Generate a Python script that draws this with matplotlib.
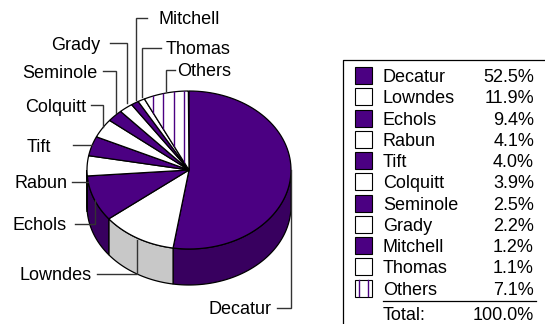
import numpy as np
import matplotlib
matplotlib.use("Agg")
import matplotlib.pyplot as plt
from matplotlib.patches import Polygon, Rectangle

plt.rcParams["font.family"] = ["Liberation Sans", "DejaVu Sans"]

names = ["Decatur", "Lowndes", "Echols", "Rabun", "Tift", "Colquitt",
         "Seminole", "Grady", "Mitchell", "Thomas", "Others"]
shares = [52.5, 11.9, 9.4, 4.1, 4.0, 3.9, 2.5, 2.2, 1.2, 1.1, 7.1]
share_labels = ["52.5%", "11.9%", "9.4%", "4.1%", "4.0%", "3.9%",
                "2.5%", "2.2%", "1.2%", "1.1%", "7.1%"]
total_label = "100.0%"

PURPLE = "#4b0082"
DARK = "#38005f"
GREY = "#c8c8c8"
LEADER = "#333333"
top_colors = [PURPLE, "white"] * 5 + ["white"]
side_colors = [DARK, GREY] * 5 + [GREY]

CX, CY, RX, RY, DEPTH = 189, 170, 102, 79, 36
FS = 13


def ellipse(t):
    return CX + RX * np.sin(t), CY - RY * np.cos(t)


fig = plt.figure(figsize=(5.45, 3.24), dpi=100)
ax = fig.add_axes([0, 0, 1, 1])
ax.set_xlim(0, 545)
ax.set_ylim(324, 0)
ax.axis("off")

edges = np.radians(np.concatenate([[0], np.cumsum(shares)]) * 3.6)

# side wall first, only the front half of the rim shows
for i in range(len(shares)):
    lo, hi = max(edges[i], np.pi / 2), min(edges[i + 1], 3 * np.pi / 2)
    if lo >= hi:
        continue
    x, y = ellipse(np.linspace(lo, hi, 80))
    pts = np.r_[np.c_[x, y], np.c_[x, y + DEPTH][::-1]]
    ax.add_patch(Polygon(pts, fc=side_colors[i], ec="black", lw=0.9, zorder=1))

# top face
for i in range(len(shares)):
    x, y = ellipse(np.linspace(edges[i], edges[i + 1], 80))
    pts = np.r_[[[CX, CY]], np.c_[x, y]]
    patch = Polygon(pts, fc=top_colors[i], ec="black", lw=0.9, zorder=2)
    ax.add_patch(patch)
    if names[i] == "Others":
        for sx in [152.5, 163, 173.5, 184]:
            ln = ax.plot([sx, sx], [80, 172], color=PURPLE, lw=1.0, zorder=3)[0]
            ln.set_clip_path(patch)

# leader lines, label anchor then elbow then end on the pie
leaders = {
    "Decatur": ([277, 291, 291], [308, 308, 170], 272, 308),
    "Lowndes": ([97, 137, 137], [273.5, 273.5, 240], 92, 273.5),
    "Echols": ([75, 94.5, 94.5], [224, 224, 200], 67, 224),
    "Rabun": ([72, 88], [182, 182], 68, 182),
    "Tift": ([73, 92], [145, 145], 51, 145),
    "Colquitt": ([91, 103, 103], [105, 105, 127], 86, 105),
    "Seminole": ([103, 116, 116], [71, 71, 113], 97, 71),
    "Grady": ([110, 127, 127], [43, 43, 103], 100, 43),
    "Mitchell": ([147, 136, 136], [18, 18, 100], 158, 18),
    "Thomas": ([161, 142, 142], [48, 48, 97], 166, 48),
    "Others": ([175, 166, 166], [70, 70, 91], 177, 70),
}
for name, (lx, ly, tx, ty) in leaders.items():
    ax.plot(lx, ly, color=LEADER, lw=1.0, zorder=4, solid_joinstyle="miter")
    ha = "left" if tx > lx[0] else "right"
    ax.text(tx, ty, name, ha=ha, va="center_baseline", fontsize=FS, color="black")

# legend table, open on the right and at the bottom
ax.plot([343, 343, 545], [324, 59.5, 59.5], color="black", lw=0.9)
ROW0, STEP = 75.7, 21.25
for i, name in enumerate(names):
    y = ROW0 + i * STEP
    ax.add_patch(Rectangle((355, y - 8.5), 17, 17, fc=top_colors[i], ec="black", lw=0.8, zorder=2))
    if name == "Others":
        for sx in [359, 368]:
            ax.plot([sx, sx], [y - 8, y + 8], color=PURPLE, lw=1.0, zorder=3)
    ax.text(383, y, name, ha="left", va="center_baseline", fontsize=FS)
    ax.text(534, y, share_labels[i], ha="right", va="center_baseline", fontsize=FS)
y_total = 313
ax.plot([383, 536], [300.5, 300.5], color="black", lw=0.9)
ax.text(383, y_total, "Total:", ha="left", va="center_baseline", fontsize=FS)
ax.text(534, y_total, total_label, ha="right", va="center_baseline", fontsize=FS)

fig.savefig("out.png", dpi=100)
